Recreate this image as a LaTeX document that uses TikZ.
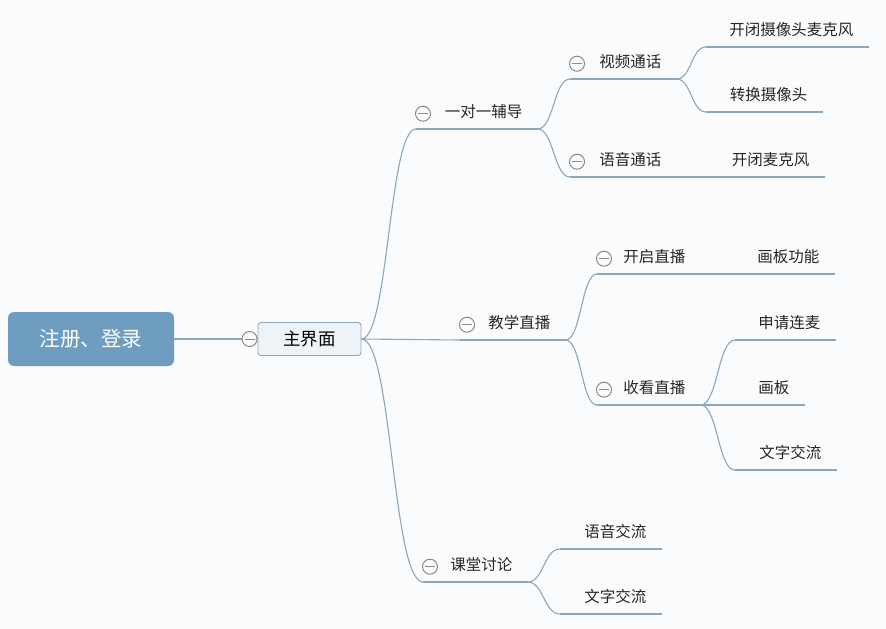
\documentclass[tikz,border=0pt]{standalone}
\usepackage{fontspec}
\setmainfont{Noto Sans CJK SC}
\usetikzlibrary{calc}
\definecolor{paper}{HTML}{FAFBFC}
\definecolor{rootblue}{HTML}{6F9DBF}
\definecolor{mainfill}{HTML}{EEF3F8}
\definecolor{mainedge}{HTML}{8EA9BF}
\definecolor{linkblue}{HTML}{8CA7BB}
\definecolor{foldgray}{HTML}{8A8A8A}

\begin{document}
\begin{tikzpicture}[x=1pt,y=-1pt,node distance=218.5pt,semithick]

            \tikzstyle{link}=[draw=linkblue,line width=1.1pt]
            \tikzstyle{branch}=[to path={let \p1=(\tikztostart),\p2=(\tikztotarget),\p3=($(\p1)!0.5!(\p2)$) in .. controls (\x3,\y1) and (\x3,\y2) .. (\p2)}]
            \tikzstyle{rootbox}=[rectangle,rounded corners=6pt,fill=rootblue,text=white,minimum width=166pt,minimum height=54pt,font=\fontsize{20.5}{24}\selectfont]
            \tikzstyle{mainbox}=[rectangle,rounded corners=3pt,draw=mainedge,fill=mainfill,line width=0.9pt,minimum width=103pt,minimum height=33pt,font=\fontsize{17.5}{20}\selectfont]
            \tikzstyle{topic}=[anchor=south west,align=right,inner xsep=15pt,inner ysep=8pt,text height=11pt,text depth=3pt,text=black!85,font=\fontsize{15.5}{18}\selectfont]
            \tikzstyle{fold}=[circle,draw=foldgray,fill=paper,line width=1pt,minimum size=15pt,inner sep=0pt,
              path picture={\draw[foldgray,line width=1pt] ([xshift=-5pt]path picture bounding box.center) -- ([xshift=5pt]path picture bounding box.center);}]

            \fill[paper] (0,0) rectangle (886,629);
            \useasboundingbox (0,0) rectangle (886,629);

            \node[rootbox]            (root) at (91,339) {注册、登录};
            \node[mainbox]            (main) [right of=root] {主界面};

            % first level
            \node[topic,text width=91pt] (one)   at (416,129) {一对一辅导};
            \node[topic,text width=75pt] (teach) at (460,340) {教学直播};
            \node[topic,text width=74pt] (disc)  at (423,582) {课堂讨论};

            % second level
            \node[topic,text width=76pt] (video) at (570,79)  {视频通话};
            \node[topic,text width=76pt] (voice) at (570,177) {语音通话};
            \node[topic,text width=73pt] (start) at (597,274) {开启直播};
            \node[topic,text width=73pt] (watch) at (597,405) {收看直播};
            \node[topic,text width=71pt] (vchat) at (560,549) {语音交流};
            \node[topic,text width=71pt] (tchat) at (560,614) {文字交流};

            % leaves
            \node[topic,text width=132pt] (cammic) at (706,47)  {开闭摄像头麦克风};
            \node[topic,text width=86pt]  (switch) at (706,112) {转换摄像头};
            \node[topic,text width=88pt]  (mic)    at (706,177) {开闭麦克风};
            \node[topic,text width=69pt]  (paint)  at (735,274) {画板功能};
            \node[topic,text width=70pt]  (apply)  at (735,340) {申请连麦};
            \node[topic,text width=39pt]  (board)  at (735,405) {画板};
            \node[topic,text width=71pt]  (chat)   at (735,470) {文字交流};

            \foreach \n in {one,teach,disc,video,voice,start,watch,vchat,tchat,cammic,switch,mic,paint,apply,board,chat}
              \draw[link] (\n.south west) -- (\n.south east);

            \draw[link] (root) -- ([xshift=-15pt]main.west);
            \draw[link] (main.east) to[branch] (one.south west);
            \draw[link] (main.east) to[branch] (teach.south west);
            \draw[link] (main.east) to[branch] (disc.south west);
            \draw[link] (one.south east) to[branch] (video.south west);
            \draw[link] (one.south east) to[branch] (voice.south west);
            \draw[link] (video.south east) to[branch] (cammic.south west);
            \draw[link] (video.south east) to[branch] (switch.south west);
            \draw[link] (voice.south east) to[branch] (mic.south west);
            \draw[link] (teach.south east) to[branch] (start.south west);
            \draw[link] (teach.south east) to[branch] (watch.south west);
            \draw[link] (start.south east) to[branch] (paint.south west);
            \draw[link] (watch.south east) to[branch] (apply.south west);
            \draw[link] (watch.south east) to[branch] (board.south west);
            \draw[link] (watch.south east) to[branch] (chat.south west);
            \draw[link] (disc.south east) to[branch] (vchat.south west);
            \draw[link] (disc.south east) to[branch] (tchat.south west);

            % collapse marks
            \node[fold] (mainfold)  at ([xshift=-8pt]main.west) {};
            \node[fold] (onefold)   at ([xshift=7pt]one.west)   {};
            \node[fold] (teachfold) at ([xshift=7pt]teach.west) {};
            \node[fold] (discfold)  at ([xshift=7pt]disc.west)  {};
            \node[fold] (videofold) at ([xshift=7pt]video.west) {};
            \node[fold] (voicefold) at ([xshift=7pt]voice.west) {};
            \node[fold] (startfold) at ([xshift=7pt]start.west) {};
            \node[fold] (watchfold) at ([xshift=7pt]watch.west) {};
        \end{tikzpicture}
\end{document}
